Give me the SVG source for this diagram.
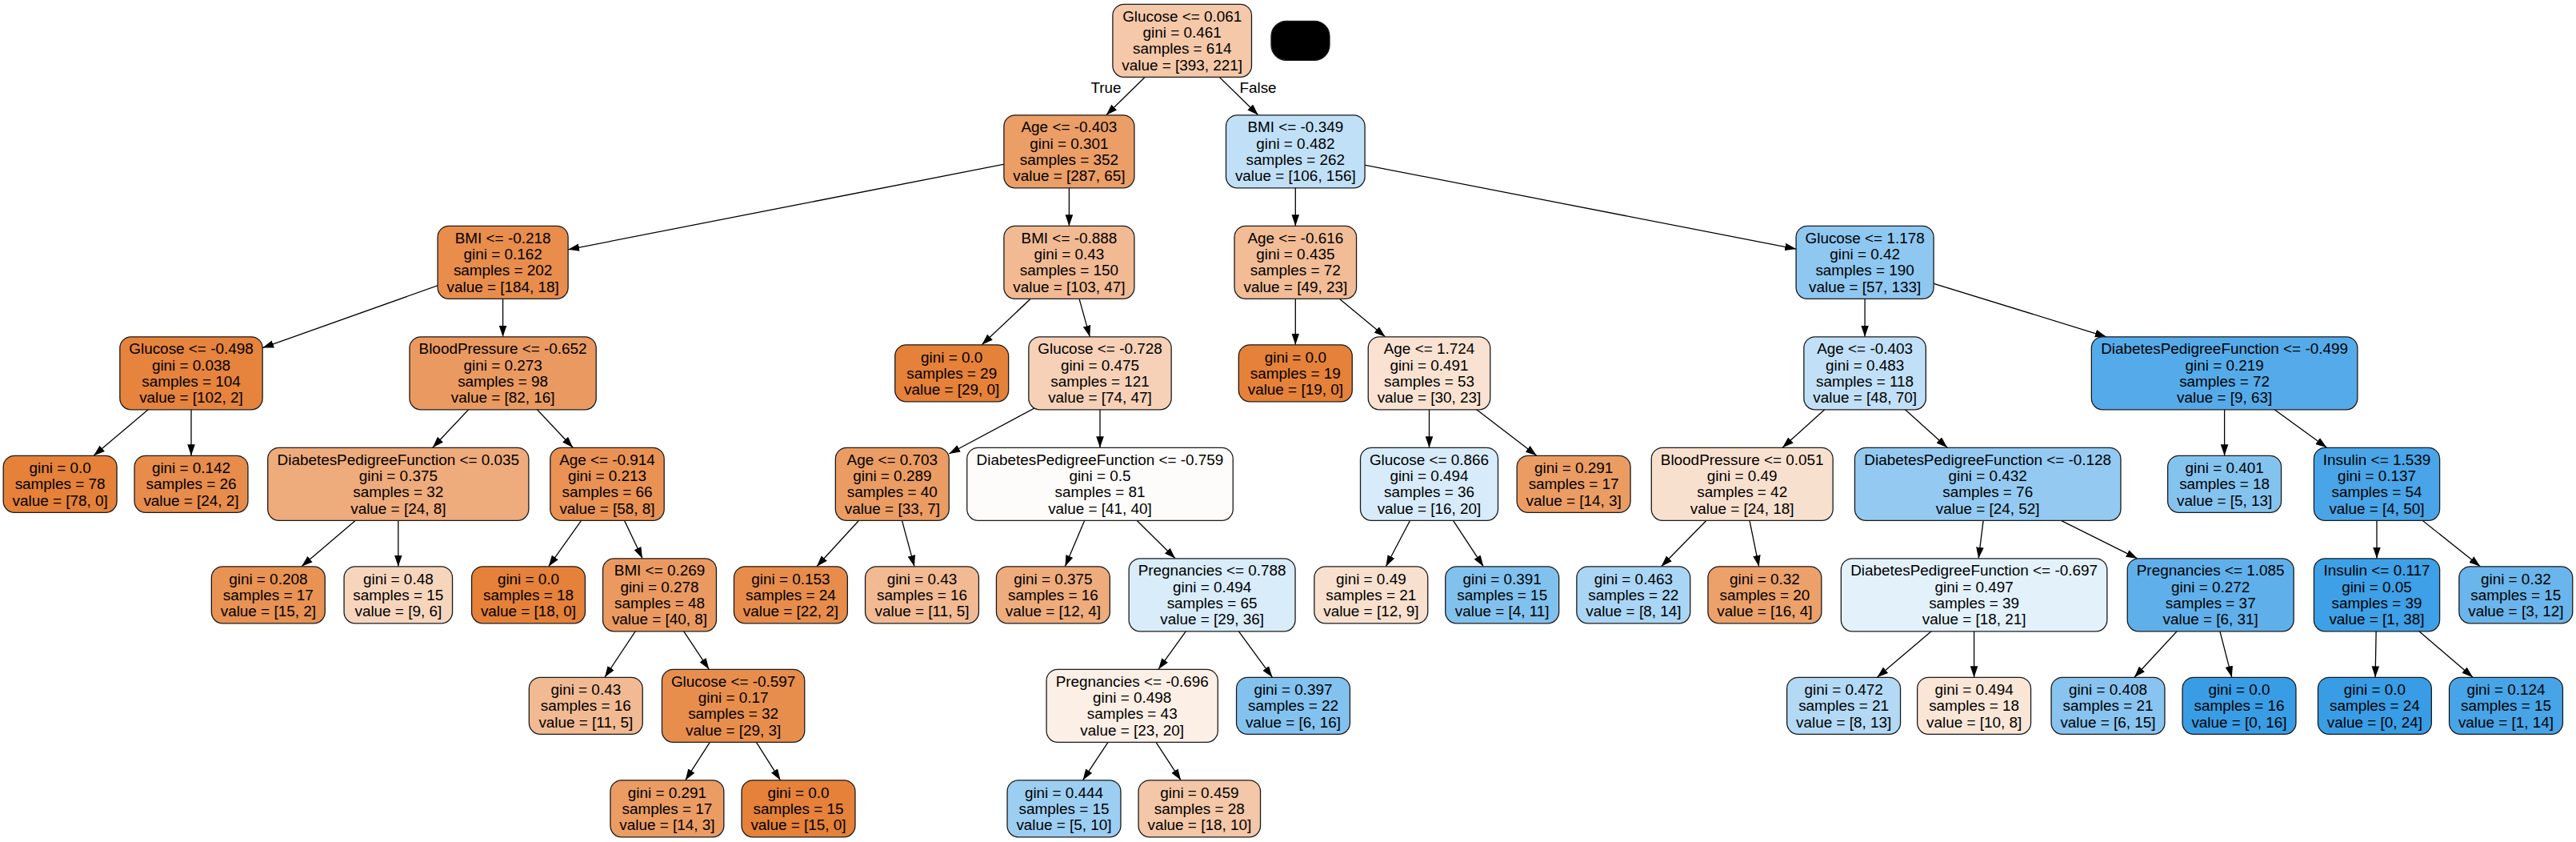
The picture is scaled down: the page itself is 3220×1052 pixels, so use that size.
<svg xmlns="http://www.w3.org/2000/svg" width="3220" height="1052" viewBox="0 0 3220 1052">
<style>
.node rect{stroke:#1a1a1a;stroke-width:1.3}
text{font-family:"Liberation Sans",Arial,sans-serif;font-size:18.9px;text-anchor:middle;fill:#000}
.edge{stroke:#000;stroke-width:1.3;fill:none;marker-end:url(#arr)}
</style>
<defs>
<marker id="arr" viewBox="0 0 14 10" refX="14" refY="5" markerWidth="14" markerHeight="10" markerUnits="userSpaceOnUse" orient="auto"><path d="M0,0.2 L14,5 L0,9.8 z" fill="#000"/></marker>
</defs>
<rect width="3220" height="1052" fill="#fff"/>
<g id="connectors">
<line class="edge" x1="1477.7" y1="50.8" x2="1382.8" y2="143.8"/>
<line class="edge" x1="1477.7" y1="50.8" x2="1572.8" y2="143.8"/>
<line class="edge" x1="1336.4" y1="189.3" x2="710.1" y2="311.85"/>
<line class="edge" x1="1336.4" y1="189.3" x2="1336.4" y2="282.3"/>
<line class="edge" x1="1619.3" y1="189.3" x2="1619.3" y2="282.3"/>
<line class="edge" x1="1619.3" y1="189.3" x2="2245.1" y2="311.1"/>
<line class="edge" x1="628.6" y1="327.8" x2="328.15" y2="434.6"/>
<line class="edge" x1="628.6" y1="327.8" x2="628.6" y2="420.8"/>
<line class="edge" x1="1336.4" y1="327.8" x2="1227.3" y2="430.8"/>
<line class="edge" x1="1336.4" y1="327.8" x2="1362.3" y2="420.8"/>
<line class="edge" x1="1619.3" y1="327.8" x2="1619.3" y2="430.8"/>
<line class="edge" x1="1619.3" y1="327.8" x2="1731.6" y2="420.8"/>
<line class="edge" x1="2331.1" y1="327.8" x2="2331.1" y2="420.8"/>
<line class="edge" x1="2331.1" y1="327.8" x2="2632.9" y2="420.8"/>
<line class="edge" x1="239" y1="466.3" x2="117.1" y2="569.3"/>
<line class="edge" x1="239" y1="466.3" x2="239" y2="569.3"/>
<line class="edge" x1="628.6" y1="466.3" x2="540.8" y2="559.3"/>
<line class="edge" x1="628.6" y1="466.3" x2="716.2" y2="559.3"/>
<line class="edge" x1="1375" y1="466.3" x2="1186.25" y2="566.96"/>
<line class="edge" x1="1375" y1="466.3" x2="1375" y2="559.3"/>
<line class="edge" x1="1786.5" y1="466.3" x2="1786.5" y2="559.3"/>
<line class="edge" x1="1786.5" y1="466.3" x2="1920.8" y2="569.3"/>
<line class="edge" x1="2331.1" y1="466.3" x2="2228.1" y2="559.3"/>
<line class="edge" x1="2331.1" y1="466.3" x2="2434.2" y2="559.3"/>
<line class="edge" x1="2780.6" y1="466.3" x2="2780.6" y2="569.3"/>
<line class="edge" x1="2780.6" y1="466.3" x2="2908.5" y2="559.3"/>
<line class="edge" x1="497.8" y1="604.8" x2="376.9" y2="707.8"/>
<line class="edge" x1="497.8" y1="604.8" x2="497.8" y2="707.8"/>
<line class="edge" x1="759" y1="604.8" x2="685.7" y2="707.8"/>
<line class="edge" x1="759" y1="604.8" x2="803" y2="697.8"/>
<line class="edge" x1="1115.3" y1="604.8" x2="1020.9" y2="707.8"/>
<line class="edge" x1="1115.3" y1="604.8" x2="1143" y2="707.8"/>
<line class="edge" x1="1375" y1="604.8" x2="1331.4" y2="707.8"/>
<line class="edge" x1="1375" y1="604.8" x2="1469.1" y2="697.8"/>
<line class="edge" x1="1786.5" y1="604.8" x2="1732.4" y2="707.8"/>
<line class="edge" x1="1786.5" y1="604.8" x2="1854.3" y2="707.8"/>
<line class="edge" x1="2177.7" y1="604.8" x2="2076.6" y2="707.8"/>
<line class="edge" x1="2177.7" y1="604.8" x2="2198.7" y2="707.8"/>
<line class="edge" x1="2484.7" y1="604.8" x2="2473.2" y2="697.8"/>
<line class="edge" x1="2484.7" y1="604.8" x2="2671.7" y2="697.8"/>
<line class="edge" x1="2971" y1="604.8" x2="2971" y2="697.8"/>
<line class="edge" x1="2971" y1="604.8" x2="3100.3" y2="707.8"/>
<line class="edge" x1="824.5" y1="743.3" x2="755.9" y2="846.3"/>
<line class="edge" x1="824.5" y1="743.3" x2="886.3" y2="836.3"/>
<line class="edge" x1="1515.1" y1="743.3" x2="1448" y2="836.3"/>
<line class="edge" x1="1515.1" y1="743.3" x2="1590.5" y2="846.3"/>
<line class="edge" x1="2467.6" y1="743.3" x2="2346.4" y2="846.3"/>
<line class="edge" x1="2467.6" y1="743.3" x2="2467.6" y2="846.3"/>
<line class="edge" x1="2763.2" y1="743.3" x2="2667.9" y2="846.3"/>
<line class="edge" x1="2763.2" y1="743.3" x2="2789.8" y2="846.3"/>
<line class="edge" x1="2971" y1="743.3" x2="2969.1" y2="846.3"/>
<line class="edge" x1="2971" y1="743.3" x2="3091.1" y2="846.3"/>
<line class="edge" x1="916.6" y1="881.8" x2="856.75" y2="974.8"/>
<line class="edge" x1="916.6" y1="881.8" x2="975.5" y2="974.8"/>
<line class="edge" x1="1415.2" y1="881.8" x2="1353.5" y2="974.8"/>
<line class="edge" x1="1415.2" y1="881.8" x2="1476.1" y2="974.8"/>
<text x="1382.5" y="115.7">True</text>
<text x="1572.5" y="115.7">False</text>
</g>
<g id="n0" class="node"><rect x="1390.9" y="5.3" width="173.6" height="91" rx="14" fill="#f4c8a8"/><text x="1477.7" y="26.85">Glucose &lt;= 0.061<tspan x="1477.7" dy="20.3">gini = 0.461</tspan><tspan x="1477.7" dy="20.3">samples = 614</tspan><tspan x="1477.7" dy="20.3">value = [393, 221]</tspan></text></g>
<g id="nX" class="node"><rect x="1589" y="26.3" width="73" height="49" rx="19" fill="#000"/></g>
<g id="n1" class="node"><rect x="1254.9" y="143.8" width="163" height="91" rx="14" fill="#eb9e66"/><text x="1336.4" y="165.35">Age &lt;= -0.403<tspan x="1336.4" dy="20.3">gini = 0.301</tspan><tspan x="1336.4" dy="20.3">samples = 352</tspan><tspan x="1336.4" dy="20.3">value = [287, 65]</tspan></text></g>
<g id="n2" class="node"><rect x="1532.5" y="143.8" width="173.6" height="91" rx="14" fill="#c0e0f7"/><text x="1619.3" y="165.35">BMI &lt;= -0.349<tspan x="1619.3" dy="20.3">gini = 0.482</tspan><tspan x="1619.3" dy="20.3">samples = 262</tspan><tspan x="1619.3" dy="20.3">value = [106, 156]</tspan></text></g>
<g id="n3" class="node"><rect x="547.1" y="282.3" width="163" height="91" rx="14" fill="#e88d4c"/><text x="628.6" y="303.85">BMI &lt;= -0.218<tspan x="628.6" dy="20.3">gini = 0.162</tspan><tspan x="628.6" dy="20.3">samples = 202</tspan><tspan x="628.6" dy="20.3">value = [184, 18]</tspan></text></g>
<g id="n4" class="node"><rect x="1254.9" y="282.3" width="163" height="91" rx="14" fill="#f1ba93"/><text x="1336.4" y="303.85">BMI &lt;= -0.888<tspan x="1336.4" dy="20.3">gini = 0.43</tspan><tspan x="1336.4" dy="20.3">samples = 150</tspan><tspan x="1336.4" dy="20.3">value = [103, 47]</tspan></text></g>
<g id="n5" class="node"><rect x="1543.05" y="282.3" width="152.5" height="91" rx="14" fill="#f1bc96"/><text x="1619.3" y="303.85">Age &lt;= -0.616<tspan x="1619.3" dy="20.3">gini = 0.435</tspan><tspan x="1619.3" dy="20.3">samples = 72</tspan><tspan x="1619.3" dy="20.3">value = [49, 23]</tspan></text></g>
<g id="n6" class="node"><rect x="2245.1" y="282.3" width="172" height="91" rx="14" fill="#8ec7f0"/><text x="2331.1" y="303.85">Glucose &lt;= 1.178<tspan x="2331.1" dy="20.3">gini = 0.42</tspan><tspan x="2331.1" dy="20.3">samples = 190</tspan><tspan x="2331.1" dy="20.3">value = [57, 133]</tspan></text></g>
<g id="n7" class="node"><rect x="149.85" y="420.8" width="178.3" height="91" rx="14" fill="#e6833d"/><text x="239" y="442.35">Glucose &lt;= -0.498<tspan x="239" dy="20.3">gini = 0.038</tspan><tspan x="239" dy="20.3">samples = 104</tspan><tspan x="239" dy="20.3">value = [102, 2]</tspan></text></g>
<g id="n8" class="node"><rect x="512" y="420.8" width="233.2" height="91" rx="14" fill="#ea9a60"/><text x="628.6" y="442.35">BloodPressure &lt;= -0.652<tspan x="628.6" dy="20.3">gini = 0.273</tspan><tspan x="628.6" dy="20.3">samples = 98</tspan><tspan x="628.6" dy="20.3">value = [82, 16]</tspan></text></g>
<g id="n9" class="node"><rect x="1118.75" y="430.8" width="141.9" height="71" rx="14" fill="#e58139"/><text x="1189.7" y="452.5">gini = 0.0<tspan x="1189.7" dy="20.3">samples = 29</tspan><tspan x="1189.7" dy="20.3">value = [29, 0]</tspan></text></g>
<g id="n10" class="node"><rect x="1285.85" y="420.8" width="178.3" height="91" rx="14" fill="#f6d1b7"/><text x="1375" y="442.35">Glucose &lt;= -0.728<tspan x="1375" dy="20.3">gini = 0.475</tspan><tspan x="1375" dy="20.3">samples = 121</tspan><tspan x="1375" dy="20.3">value = [74, 47]</tspan></text></g>
<g id="n11" class="node"><rect x="1548.35" y="430.8" width="141.9" height="71" rx="14" fill="#e58139"/><text x="1619.3" y="452.5">gini = 0.0<tspan x="1619.3" dy="20.3">samples = 19</tspan><tspan x="1619.3" dy="20.3">value = [19, 0]</tspan></text></g>
<g id="n12" class="node"><rect x="1710.25" y="420.8" width="152.5" height="91" rx="14" fill="#f9e2d1"/><text x="1786.5" y="442.35">Age &lt;= 1.724<tspan x="1786.5" dy="20.3">gini = 0.491</tspan><tspan x="1786.5" dy="20.3">samples = 53</tspan><tspan x="1786.5" dy="20.3">value = [30, 23]</tspan></text></g>
<g id="n13" class="node"><rect x="2254.85" y="420.8" width="152.5" height="91" rx="14" fill="#c1e0f7"/><text x="2331.1" y="442.35">Age &lt;= -0.403<tspan x="2331.1" dy="20.3">gini = 0.483</tspan><tspan x="2331.1" dy="20.3">samples = 118</tspan><tspan x="2331.1" dy="20.3">value = [48, 70]</tspan></text></g>
<g id="n14" class="node"><rect x="2614.35" y="420.8" width="332.5" height="91" rx="14" fill="#55abe9"/><text x="2780.6" y="442.35">DiabetesPedigreeFunction &lt;= -0.499<tspan x="2780.6" dy="20.3">gini = 0.219</tspan><tspan x="2780.6" dy="20.3">samples = 72</tspan><tspan x="2780.6" dy="20.3">value = [9, 63]</tspan></text></g>
<g id="n15" class="node"><rect x="4.15" y="569.3" width="141.9" height="71" rx="14" fill="#e58139"/><text x="75.1" y="591">gini = 0.0<tspan x="75.1" dy="20.3">samples = 78</tspan><tspan x="75.1" dy="20.3">value = [78, 0]</tspan></text></g>
<g id="n16" class="node"><rect x="168.05" y="569.3" width="141.9" height="71" rx="14" fill="#e78c4a"/><text x="239" y="591">gini = 0.142<tspan x="239" dy="20.3">samples = 26</tspan><tspan x="239" dy="20.3">value = [24, 2]</tspan></text></g>
<g id="n17" class="node"><rect x="334.7" y="559.3" width="326.2" height="91" rx="14" fill="#eeab7b"/><text x="497.8" y="580.85">DiabetesPedigreeFunction &lt;= 0.035<tspan x="497.8" dy="20.3">gini = 0.375</tspan><tspan x="497.8" dy="20.3">samples = 32</tspan><tspan x="497.8" dy="20.3">value = [24, 8]</tspan></text></g>
<g id="n18" class="node"><rect x="687.8" y="559.3" width="142.4" height="91" rx="14" fill="#e99254"/><text x="759" y="580.85">Age &lt;= -0.914<tspan x="759" dy="20.3">gini = 0.213</tspan><tspan x="759" dy="20.3">samples = 66</tspan><tspan x="759" dy="20.3">value = [58, 8]</tspan></text></g>
<g id="n19" class="node"><rect x="1044.35" y="559.3" width="141.9" height="91" rx="14" fill="#eb9c63"/><text x="1115.3" y="580.85">Age &lt;= 0.703<tspan x="1115.3" dy="20.3">gini = 0.289</tspan><tspan x="1115.3" dy="20.3">samples = 40</tspan><tspan x="1115.3" dy="20.3">value = [33, 7]</tspan></text></g>
<g id="n20" class="node"><rect x="1208.75" y="559.3" width="332.5" height="91" rx="14" fill="#fefcfa"/><text x="1375" y="580.85">DiabetesPedigreeFunction &lt;= -0.759<tspan x="1375" dy="20.3">gini = 0.5</tspan><tspan x="1375" dy="20.3">samples = 81</tspan><tspan x="1375" dy="20.3">value = [41, 40]</tspan></text></g>
<g id="n21" class="node"><rect x="1700.5" y="559.3" width="172" height="91" rx="14" fill="#d7ebfa"/><text x="1786.5" y="580.85">Glucose &lt;= 0.866<tspan x="1786.5" dy="20.3">gini = 0.494</tspan><tspan x="1786.5" dy="20.3">samples = 36</tspan><tspan x="1786.5" dy="20.3">value = [16, 20]</tspan></text></g>
<g id="n22" class="node"><rect x="1896.15" y="569.3" width="141.9" height="71" rx="14" fill="#eb9c63"/><text x="1967.1" y="591">gini = 0.291<tspan x="1967.1" dy="20.3">samples = 17</tspan><tspan x="1967.1" dy="20.3">value = [14, 3]</tspan></text></g>
<g id="n23" class="node"><rect x="2064.25" y="559.3" width="226.9" height="91" rx="14" fill="#f8e0ce"/><text x="2177.7" y="580.85">BloodPressure &lt;= 0.051<tspan x="2177.7" dy="20.3">gini = 0.49</tspan><tspan x="2177.7" dy="20.3">samples = 42</tspan><tspan x="2177.7" dy="20.3">value = [24, 18]</tspan></text></g>
<g id="n24" class="node"><rect x="2318.45" y="559.3" width="332.5" height="91" rx="14" fill="#94caf1"/><text x="2484.7" y="580.85">DiabetesPedigreeFunction &lt;= -0.128<tspan x="2484.7" dy="20.3">gini = 0.432</tspan><tspan x="2484.7" dy="20.3">samples = 76</tspan><tspan x="2484.7" dy="20.3">value = [24, 52]</tspan></text></g>
<g id="n25" class="node"><rect x="2709.65" y="569.3" width="141.9" height="71" rx="14" fill="#85c3ef"/><text x="2780.6" y="591">gini = 0.401<tspan x="2780.6" dy="20.3">samples = 18</tspan><tspan x="2780.6" dy="20.3">value = [5, 13]</tspan></text></g>
<g id="n26" class="node"><rect x="2892.4" y="559.3" width="157.2" height="91" rx="14" fill="#49a5e7"/><text x="2971" y="580.85">Insulin &lt;= 1.539<tspan x="2971" dy="20.3">gini = 0.137</tspan><tspan x="2971" dy="20.3">samples = 54</tspan><tspan x="2971" dy="20.3">value = [4, 50]</tspan></text></g>
<g id="n27" class="node"><rect x="264.35" y="707.8" width="141.9" height="71" rx="14" fill="#e89253"/><text x="335.3" y="729.5">gini = 0.208<tspan x="335.3" dy="20.3">samples = 17</tspan><tspan x="335.3" dy="20.3">value = [15, 2]</tspan></text></g>
<g id="n28" class="node"><rect x="430.05" y="707.8" width="135.5" height="71" rx="14" fill="#f6d5bd"/><text x="497.8" y="729.5">gini = 0.48<tspan x="497.8" dy="20.3">samples = 15</tspan><tspan x="497.8" dy="20.3">value = [9, 6]</tspan></text></g>
<g id="n29" class="node"><rect x="589.55" y="707.8" width="141.9" height="71" rx="14" fill="#e58139"/><text x="660.5" y="729.5">gini = 0.0<tspan x="660.5" dy="20.3">samples = 18</tspan><tspan x="660.5" dy="20.3">value = [18, 0]</tspan></text></g>
<g id="n30" class="node"><rect x="753.55" y="697.8" width="141.9" height="91" rx="14" fill="#ea9a61"/><text x="824.5" y="719.35">BMI &lt;= 0.269<tspan x="824.5" dy="20.3">gini = 0.278</tspan><tspan x="824.5" dy="20.3">samples = 48</tspan><tspan x="824.5" dy="20.3">value = [40, 8]</tspan></text></g>
<g id="n31" class="node"><rect x="917.45" y="707.8" width="141.9" height="71" rx="14" fill="#e78c4b"/><text x="988.4" y="729.5">gini = 0.153<tspan x="988.4" dy="20.3">samples = 24</tspan><tspan x="988.4" dy="20.3">value = [22, 2]</tspan></text></g>
<g id="n32" class="node"><rect x="1081.55" y="707.8" width="141.9" height="71" rx="14" fill="#f1ba93"/><text x="1152.5" y="729.5">gini = 0.43<tspan x="1152.5" dy="20.3">samples = 16</tspan><tspan x="1152.5" dy="20.3">value = [11, 5]</tspan></text></g>
<g id="n33" class="node"><rect x="1245.45" y="707.8" width="141.9" height="71" rx="14" fill="#eeab7b"/><text x="1316.4" y="729.5">gini = 0.375<tspan x="1316.4" dy="20.3">samples = 16</tspan><tspan x="1316.4" dy="20.3">value = [12, 4]</tspan></text></g>
<g id="n34" class="node"><rect x="1411.15" y="697.8" width="207.9" height="91" rx="14" fill="#d8ecfa"/><text x="1515.1" y="719.35">Pregnancies &lt;= 0.788<tspan x="1515.1" dy="20.3">gini = 0.494</tspan><tspan x="1515.1" dy="20.3">samples = 65</tspan><tspan x="1515.1" dy="20.3">value = [29, 36]</tspan></text></g>
<g id="n35" class="node"><rect x="1642.85" y="707.8" width="141.9" height="71" rx="14" fill="#f8e0ce"/><text x="1713.8" y="729.5">gini = 0.49<tspan x="1713.8" dy="20.3">samples = 21</tspan><tspan x="1713.8" dy="20.3">value = [12, 9]</tspan></text></g>
<g id="n36" class="node"><rect x="1806.75" y="707.8" width="141.9" height="71" rx="14" fill="#81c1ee"/><text x="1877.7" y="729.5">gini = 0.391<tspan x="1877.7" dy="20.3">samples = 15</tspan><tspan x="1877.7" dy="20.3">value = [4, 11]</tspan></text></g>
<g id="n37" class="node"><rect x="1970.85" y="707.8" width="141.9" height="71" rx="14" fill="#aad5f4"/><text x="2041.8" y="729.5">gini = 0.463<tspan x="2041.8" dy="20.3">samples = 22</tspan><tspan x="2041.8" dy="20.3">value = [8, 14]</tspan></text></g>
<g id="n38" class="node"><rect x="2134.95" y="707.8" width="141.9" height="71" rx="14" fill="#eca06a"/><text x="2205.9" y="729.5">gini = 0.32<tspan x="2205.9" dy="20.3">samples = 20</tspan><tspan x="2205.9" dy="20.3">value = [16, 4]</tspan></text></g>
<g id="n39" class="node"><rect x="2301.35" y="697.8" width="332.5" height="91" rx="14" fill="#e3f1fb"/><text x="2467.6" y="719.35">DiabetesPedigreeFunction &lt;= -0.697<tspan x="2467.6" dy="20.3">gini = 0.497</tspan><tspan x="2467.6" dy="20.3">samples = 39</tspan><tspan x="2467.6" dy="20.3">value = [18, 21]</tspan></text></g>
<g id="n40" class="node"><rect x="2659.25" y="697.8" width="207.9" height="91" rx="14" fill="#5fb0ea"/><text x="2763.2" y="719.35">Pregnancies &lt;= 1.085<tspan x="2763.2" dy="20.3">gini = 0.272</tspan><tspan x="2763.2" dy="20.3">samples = 37</tspan><tspan x="2763.2" dy="20.3">value = [6, 31]</tspan></text></g>
<g id="n41" class="node"><rect x="2892.4" y="697.8" width="157.2" height="91" rx="14" fill="#3ea0e6"/><text x="2971" y="719.35">Insulin &lt;= 0.117<tspan x="2971" dy="20.3">gini = 0.05</tspan><tspan x="2971" dy="20.3">samples = 39</tspan><tspan x="2971" dy="20.3">value = [1, 38]</tspan></text></g>
<g id="n42" class="node"><rect x="3073.85" y="707.8" width="141.9" height="71" rx="14" fill="#6ab5eb"/><text x="3144.8" y="729.5">gini = 0.32<tspan x="3144.8" dy="20.3">samples = 15</tspan><tspan x="3144.8" dy="20.3">value = [3, 12]</tspan></text></g>
<g id="n43" class="node"><rect x="661.35" y="846.3" width="141.9" height="71" rx="14" fill="#f1ba93"/><text x="732.3" y="868">gini = 0.43<tspan x="732.3" dy="20.3">samples = 16</tspan><tspan x="732.3" dy="20.3">value = [11, 5]</tspan></text></g>
<g id="n44" class="node"><rect x="827.45" y="836.3" width="178.3" height="91" rx="14" fill="#e88e4d"/><text x="916.6" y="857.85">Glucose &lt;= -0.597<tspan x="916.6" dy="20.3">gini = 0.17</tspan><tspan x="916.6" dy="20.3">samples = 32</tspan><tspan x="916.6" dy="20.3">value = [29, 3]</tspan></text></g>
<g id="n45" class="node"><rect x="1308.1" y="836.3" width="214.2" height="91" rx="14" fill="#fcefe5"/><text x="1415.2" y="857.85">Pregnancies &lt;= -0.696<tspan x="1415.2" dy="20.3">gini = 0.498</tspan><tspan x="1415.2" dy="20.3">samples = 43</tspan><tspan x="1415.2" dy="20.3">value = [23, 20]</tspan></text></g>
<g id="n46" class="node"><rect x="1545.55" y="846.3" width="141.9" height="71" rx="14" fill="#83c2ef"/><text x="1616.5" y="868">gini = 0.397<tspan x="1616.5" dy="20.3">samples = 22</tspan><tspan x="1616.5" dy="20.3">value = [6, 16]</tspan></text></g>
<g id="n47" class="node"><rect x="2233.65" y="846.3" width="141.9" height="71" rx="14" fill="#b3d9f5"/><text x="2304.6" y="868">gini = 0.472<tspan x="2304.6" dy="20.3">samples = 21</tspan><tspan x="2304.6" dy="20.3">value = [8, 13]</tspan></text></g>
<g id="n48" class="node"><rect x="2396.65" y="846.3" width="141.9" height="71" rx="14" fill="#fae6d7"/><text x="2467.6" y="868">gini = 0.494<tspan x="2467.6" dy="20.3">samples = 18</tspan><tspan x="2467.6" dy="20.3">value = [10, 8]</tspan></text></g>
<g id="n49" class="node"><rect x="2564.05" y="846.3" width="141.9" height="71" rx="14" fill="#88c4ef"/><text x="2635" y="868">gini = 0.408<tspan x="2635" dy="20.3">samples = 21</tspan><tspan x="2635" dy="20.3">value = [6, 15]</tspan></text></g>
<g id="n50" class="node"><rect x="2728.05" y="846.3" width="141.9" height="71" rx="14" fill="#399de5"/><text x="2799" y="868">gini = 0.0<tspan x="2799" dy="20.3">samples = 16</tspan><tspan x="2799" dy="20.3">value = [0, 16]</tspan></text></g>
<g id="n51" class="node"><rect x="2897.45" y="846.3" width="141.9" height="71" rx="14" fill="#399de5"/><text x="2968.4" y="868">gini = 0.0<tspan x="2968.4" dy="20.3">samples = 24</tspan><tspan x="2968.4" dy="20.3">value = [0, 24]</tspan></text></g>
<g id="n52" class="node"><rect x="3061.55" y="846.3" width="141.9" height="71" rx="14" fill="#47a4e7"/><text x="3132.5" y="868">gini = 0.124<tspan x="3132.5" dy="20.3">samples = 15</tspan><tspan x="3132.5" dy="20.3">value = [1, 14]</tspan></text></g>
<g id="n53" class="node"><rect x="762.95" y="974.8" width="141.9" height="71" rx="14" fill="#eb9c63"/><text x="833.9" y="996.5">gini = 0.291<tspan x="833.9" dy="20.3">samples = 17</tspan><tspan x="833.9" dy="20.3">value = [14, 3]</tspan></text></g>
<g id="n54" class="node"><rect x="927.05" y="974.8" width="141.9" height="71" rx="14" fill="#e58139"/><text x="998" y="996.5">gini = 0.0<tspan x="998" dy="20.3">samples = 15</tspan><tspan x="998" dy="20.3">value = [15, 0]</tspan></text></g>
<g id="n55" class="node"><rect x="1259.05" y="974.8" width="141.9" height="71" rx="14" fill="#9ccef2"/><text x="1330" y="996.5">gini = 0.444<tspan x="1330" dy="20.3">samples = 15</tspan><tspan x="1330" dy="20.3">value = [5, 10]</tspan></text></g>
<g id="n56" class="node"><rect x="1423.05" y="974.8" width="152.5" height="71" rx="14" fill="#f3c7a7"/><text x="1499.3" y="996.5">gini = 0.459<tspan x="1499.3" dy="20.3">samples = 28</tspan><tspan x="1499.3" dy="20.3">value = [18, 10]</tspan></text></g>
</svg>
